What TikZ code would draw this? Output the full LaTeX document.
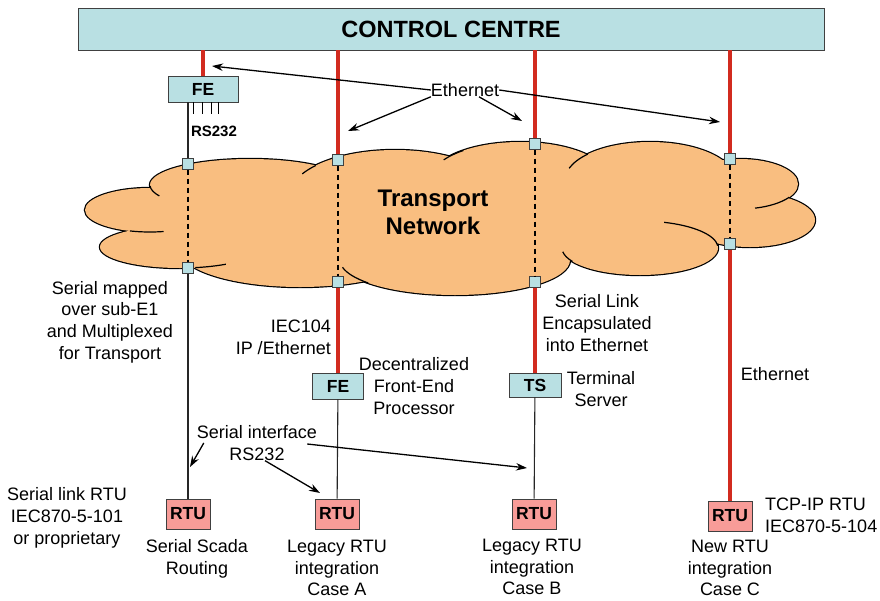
\documentclass[tikz,border=0pt]{standalone}
\usepackage{fontspec}
\setmainfont{Liberation Sans}
\usetikzlibrary{arrows.meta}

\definecolor{boxcyan}{HTML}{B9E0E3}
\definecolor{linkred}{HTML}{D22B1F}
\definecolor{rtupink}{HTML}{F89C98}
\definecolor{cloudorange}{HTML}{F9BE80}

% lobes of the transport cloud: x/y/x radius/y radius
\def\cloudlobes{150/210/65/22, 180/247/80/21, 250/185/100/26, 395/195/105/45,
	520/180/90/38, 650/180/85/38, 740/184/58/25, 750/220/65/27,
	640/248/78/27, 455/260/115/35, 300/250/120/37, 450/215/290/45}
% short inner arcs of the cloud: x/y/x radius/y radius/from/to
\def\cloudcusps{150/210/65/22/108/78, 250/185/100/26/178/155, 180/247/80/21/79/55,
	395/195/105/45/221/208, 520/180/90/38/231/212, 650/180/85/38/223/198,
	740/184/58/25/32/75, 640/248/78/27/288/355, 455/260/115/35/139/168,
	640/248/78/27/150/172}

\begin{document}
\begin{tikzpicture}[
		x=1pt, y=-1pt,
		>={Stealth[length=11pt,width=7.5pt]},
		redlink/.style={line width=4pt,linkred},
		serial/.style={line width=1.1pt,black!85},
		tunnel/.style={line width=1.4pt,dash pattern=on 5pt off 4pt},
		cyanbox/.style={draw=black!75,line width=0.9pt,fill=boxcyan,inner sep=0pt,
			font=\fontsize{17.5}{20}\selectfont\bfseries},
		rtubox/.style={draw=black!75,line width=0.9pt,fill=rtupink,inner sep=0pt,
			minimum width=44pt,minimum height=30pt,font=\fontsize{17.5}{20}\selectfont\bfseries},
		port/.style={draw=black!75,line width=0.9pt,fill=boxcyan,minimum size=10.5pt,inner sep=0pt},
		note/.style={font=\fontsize{18}{21.7}\selectfont,align=center,inner sep=0pt},
		pointer/.style={->,line width=1.3pt},
		lobeline/.style={line width=1.2pt},
	]
	\useasboundingbox (0,0) rectangle (880,600);

	% ---------- control centre ----------
	\node[cyanbox,minimum width=746pt,minimum height=42pt,
		font=\fontsize{23.5}{26}\selectfont\bfseries] (cc) at (451,29) {CONTROL CENTRE};

	% ---------- transport cloud ----------
	\foreach \cx/\cy/\rx/\ry in \cloudlobes
		\draw[line width=2.4pt] (\cx,\cy) ellipse [x radius=\rx,y radius=\ry];
	\foreach \cx/\cy/\rx/\ry in \cloudlobes
		\fill[cloudorange] (\cx,\cy) ellipse [x radius=\rx,y radius=\ry];
	\foreach \cx/\cy/\rx/\ry/\a/\b in \cloudcusps
		\draw[lobeline] (\cx,\cy) ++(\a:{\rx} and {\ry})
			arc[start angle=\a,end angle=\b,x radius=\rx,y radius=\ry];
	\node[font=\fontsize{24}{28}\selectfont\bfseries,align=center] (tn) at (433,212)
		{Transport\\Network};

	% ---------- boxes ----------
	\node[cyanbox,minimum width=70pt,minimum height=26pt] (fehead) at (203,89) {FE};
	\node[cyanbox,minimum width=51pt,minimum height=26pt] (fe2) at (338,386) {FE};
	\node[cyanbox,minimum width=52pt,minimum height=24pt] (ts) at (535,385) {TS};
	\node[rtubox] (rtu1) at (188,514) {RTU};
	\node[rtubox] (rtu2) at (337,514) {RTU};
	\node[rtubox] (rtu3) at (534,514) {RTU};
	\node[rtubox] (rtu4) at (730,516) {RTU};

	% ---------- ports on the cloud ----------
	\node[port] (p1t) at (188,164) {};
	\node[port] (p1b) at (188,268) {};
	\node[port] (p2t) at (338,160) {};
	\node[port] (p2b) at (338,282) {};
	\node[port] (p3t) at (535,144) {};
	\node[port] (p3b) at (535,282) {};
	\node[port] (p4t) at (730,159) {};
	\node[port] (p4b) at (730,244) {};

	% ---------- links ----------
	\draw[redlink] (cc.south -| fehead) -- (fehead.north);
	\draw[redlink] (cc.south -| p2t) -- (p2t.north);
	\draw[redlink] (cc.south -| p3t) -- (p3t.north);
	\draw[redlink] (cc.south -| p4t) -- (p4t.north);
	\draw[redlink] (p2b.south) -- (fe2.north);
	\draw[redlink] (p3b.south) -- (ts.north);
	\draw[redlink] (p4b.south) -- (rtu4.north);
	\foreach \dx in {-10,-1,8,15}
		\draw[line width=0.9pt] ([xshift=\dx pt]fehead.south) -- ++(0,12);
	\draw[tunnel] (p1t) -- (p1b);
	\draw[tunnel] (p2t) -- (p2b);
	\draw[tunnel] (p3t) -- (p3b);
	\draw[tunnel] (p4t) -- (p4b);
	\draw[serial] (fehead.south -| p1t) -- (p1t.north);
	\draw[serial] (p1b) -- (rtu1);
	\draw[serial] (fe2) -- (rtu2);
	\draw[serial] (ts) -- (rtu3);

	% ---------- labels ----------
	\node[font=\fontsize{15}{18}\selectfont\bfseries] (rslabel) at (214,131) {RS232};
	\node[note] (ethtop) at (465,90) {Ethernet};
	\node[note] (sermap) at (110,322) {Serial mapped\\over sub-E1\\and Multiplexed\\for Transport};
	\node[note,align=right,anchor=east] (iec) at (331,337) {IEC104\\IP /Ethernet};
	\node[note] (dfep) at (414,386) {Decentralized\\Front-End\\Processor};
	\node[note] (encap) at (597,323) {Serial Link\\Encapsulated\\into Ethernet};
	\node[note] (tsname) at (601,389) {Terminal\\Server};
	\node[note] (ethright) at (775,374) {Ethernet};
	\node[note] (serlabel) at (257,443) {Serial interface\\RS232};
	\node[note] (rtuserial) at (67,518) {Serial link RTU\\IEC870-5-101\\or proprietary};
	\node[note] (casescada) at (197,559) {Serial Scada\\Routing};
	\node[note] (casea) at (337,568) {Legacy RTU\\integration\\Case A};
	\node[note] (caseb) at (532,567) {Legacy RTU\\integration\\Case B};
	\node[note] (casec) at (730,568) {New RTU\\integration\\Case C};
	\node[note,align=left,anchor=west] (rtutcp) at (765,515) {TCP-IP RTU\\IEC870-5-104};

	% ---------- pointers ----------
	\coordinate (tipfe) at (212,66);
	\coordinate (tiplink) at (348,131);
	\coordinate (tipts) at (522,121);
	\coordinate (tipnew) at (720,122);
	\draw[pointer] (ethtop.west) -- (tipfe);
	\draw[pointer] (ethtop.south west) -- (tiplink);
	\draw[pointer] ([xshift=14pt]ethtop.south) -- (tipts);
	\draw[pointer] (ethtop.east) -- (tipnew);
	\coordinate (tipserial) at (190,467);
	\coordinate (tiprtua) at (320,493);
	\coordinate (tiprtub) at (527,468);
	\draw[pointer] ([xshift=7pt]serlabel.west) -- (tipserial);
	\draw[pointer] ([xshift=8pt]serlabel.south) -- (tiprtua);
	\draw[pointer] ([xshift=-10pt,yshift=-1pt]serlabel.east) -- (tiprtub);

\end{tikzpicture}
\end{document}
